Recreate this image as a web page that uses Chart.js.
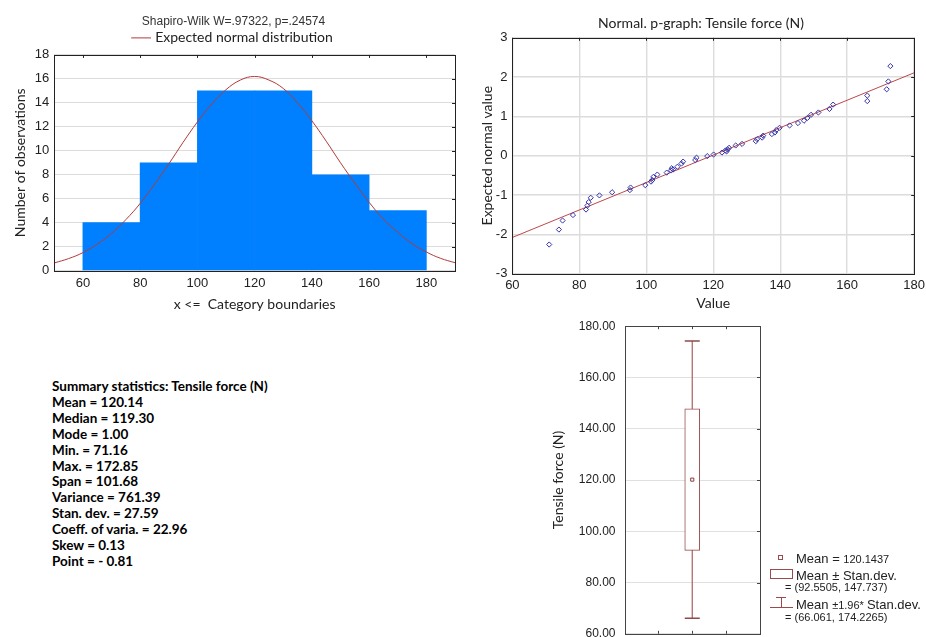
<!DOCTYPE html>
<html>
<head>
<meta charset="utf-8">
<script src="https://cdn.jsdelivr.net/npm/chart.js@4/dist/chart.umd.min.js"></script>
<style>
  body { margin: 0; background: #fff; width: 926px; height: 637px; overflow: hidden; position: relative; }
  .box { position: absolute; }
  #stats { position: absolute; left: 52px; top: 379px; font-family: Lato, sans-serif; font-weight: bold; font-size: 13.5px; line-height: 15.9px; color: #000; }
  #boxLegend { position: absolute; left: 768px; top: 549px; font-family: "Liberation Sans", Arial, sans-serif; color: #222; }
  #boxLegend .row { position: relative; height: 16px; white-space: nowrap; }
  .big { font-size: 13px; }
  .small { font-size: 11px; }
</style>
</head>
<body>

<div class="box" style="left:0;top:0;"><canvas id="histo" width="465" height="318"></canvas></div>
<div class="box" style="left:470px;top:0;"><canvas id="pplot" width="459" height="318"></canvas></div>
<div class="box" style="left:540px;top:310px;"><canvas id="boxplot" width="240" height="340"></canvas></div>

<div id="stats"></div>

<div id="boxLegend">
  <div class="row" style="padding-left:28px;height:17px;"><span style="position:absolute;left:10px;top:6px;width:3px;height:3px;border:1px solid #9a4a4a;"></span><span class="big">Mean = </span><span class="small">120.1437</span></div>
  <div class="row" style="padding-left:28px;height:15px;"><span style="position:absolute;left:2px;top:3px;width:21px;height:8px;border:1px solid #9a4a4a;"></span><span class="big">Mean ± Stan.dev.</span></div>
  <div class="row small" style="padding-left:17px;height:14px;">= (92.5505, 147.737)</div>
  <div class="row" style="padding-left:28px;height:16px;"><span style="position:absolute;left:8px;top:2px;width:10px;height:0;border-top:1px solid #9a4a4a;"></span><span style="position:absolute;left:13px;top:2px;width:0;height:10px;border-left:1px solid #9a4a4a;"></span><span style="position:absolute;left:2px;top:12px;width:23px;height:0;border-top:1px solid #9a4a4a;"></span><span class="big">Mean </span><span class="small">±1.96* </span><span class="big">Stan.dev.</span></div>
  <div class="row small" style="padding-left:17px;height:14px;">= (66.061, 174.2265)</div>
</div>

<script>
// ---- histogram data ----
var binCenters = [70, 90, 110, 130, 150, 170];
var binCounts = [4, 9, 15, 15, 8, 5];
var histTicks = [60, 80, 100, 120, 140, 160, 180];
// expected normal curve
var curveX = [50, 55, 60, 65, 70, 75, 80, 85, 90, 95, 100, 105, 110, 115, 120, 125, 130, 135, 140, 145, 150, 155, 160, 165, 170, 175, 180, 185, 190];
var curveY = [0.64, 1.0, 1.5, 2.2, 3.1, 4.25, 5.6, 7.2, 8.9, 10.7, 12.4, 13.9, 15.1, 15.9, 16.2, 15.9, 15.2, 14.0, 12.5, 10.8, 9.0, 7.3, 5.7, 4.3, 3.2, 2.25, 1.55, 1.02, 0.66];

// ---- normal probability plot data ----
var probValue = [71.0, 73.9, 75.0, 78.1, 82.0, 82.4, 82.8, 83.4, 86.0, 89.8, 95.1, 95.3, 99.7, 101.4, 101.8, 102.1, 103.3, 106.1, 107.4, 107.6, 108.0, 109.3, 110.5, 111.0, 114.6, 115.0, 118.2, 120.1, 122.6, 123.6, 124.0, 124.3, 124.7, 126.7, 128.6, 132.7, 133.1, 134.6, 134.9, 137.5, 138.4, 138.8, 139.8, 142.8, 145.3, 147.1, 148.1, 149.2, 151.4, 154.7, 155.8, 166.0, 166.0, 171.8, 172.3, 172.9];
var probExpected = [-2.26, -1.88, -1.65, -1.51, -1.37, -1.27, -1.18, -1.07, -1.01, -0.93, -0.875, -0.81, -0.75, -0.66, -0.62, -0.54, -0.48, -0.43, -0.37, -0.32, -0.35, -0.28, -0.20, -0.15, -0.11, -0.05, -0.01, 0.03, 0.08, 0.13, 0.11, 0.16, 0.20, 0.26, 0.30, 0.37, 0.42, 0.46, 0.51, 0.55, 0.59, 0.65, 0.71, 0.77, 0.83, 0.89, 0.96, 1.04, 1.10, 1.19, 1.30, 1.39, 1.53, 1.69, 1.89, 2.28];
var fitX = [60, 180];
var fitY = [-2.08, 2.11];

// ---- box plot data ----
var boxMean = 120.1437;
var boxSd = [92.5505, 147.737];
var boxCi = [66.061, 174.2265];

// ---- summary statistics ----
var statLines = [
    'Summary statistics: Tensile force (N)',
    'Mean = 120.14',
    'Median = 119.30',
    'Mode = 1.00',
    'Min. = 71.16',
    'Max. = 172.85',
    'Span = 101.68',
    'Variance = 761.39',
    'Stan. dev. = 27.59',
    'Coeff. of varia. = 22.96',
    'Skew = 0.13',
    'Point = - 0.81'
];

document.getElementById('stats').innerHTML = statLines.join('<br>');

var tickFont = { family: "'Liberation Sans', Arial, sans-serif", size: 13 };
var titleFont = { family: "Lato, sans-serif", size: 14, weight: 'normal' };

// marco alrededor del area del grafico + marcas hacia dentro
var framePlugin = {
    id: 'frame',
    afterDraw: function (chart, args, opts) {
        var a = chart.chartArea;
        var c = chart.ctx;
        c.save();
        c.strokeStyle = opts.color || '#333';
        c.lineWidth = 1;
        c.strokeRect(Math.round(a.left) + 0.5, Math.round(a.top) + 0.5, Math.round(a.right - a.left), Math.round(a.bottom - a.top));
        var len = opts.tick || 0;
        if (len) {
            var x = chart.scales.x, y = chart.scales.y;
            x.ticks.forEach(function (t) {
                var px = Math.round(x.getPixelForValue(t.value)) + 0.5;
                if (opts.bottomTicks) { c.beginPath(); c.moveTo(px, a.bottom); c.lineTo(px, a.bottom - len); c.stroke(); }
                c.beginPath(); c.moveTo(px, a.top); c.lineTo(px, a.top + len); c.stroke();
            });
            y.ticks.forEach(function (t) {
                var py = Math.round(y.getPixelForValue(t.value)) + 0.5;
                c.beginPath(); c.moveTo(a.right, py); c.lineTo(a.right - len, py); c.stroke();
            });
        }
        c.restore();
    }
};

// ---------- HISTOGRAM ----------
new Chart(document.getElementById('histo'), {
    type: 'bar',
    data: {
        datasets: [{
            type: 'line',
            label: 'Expected normal distribution',
            data: curveX.map(function (v, i) { return { x: v, y: curveY[i] }; }),
            borderColor: '#b23a3a',
            borderWidth: 1,
            pointRadius: 0,
            tension: 0.4,
            order: 0
        }, {
            label: 'Counts',
            data: binCenters.map(function (v, i) { return { x: v, y: binCounts[i] }; }),
            backgroundColor: '#0080ff',
            borderWidth: 0,
            barPercentage: 1,
            categoryPercentage: 1,
            order: 1
        }]
    },
    options: {
        responsive: false,
        animation: false,
        layout: { padding: { left: 12, right: 10, top: 0, bottom: 5 } },
        scales: {
            x: {
                type: 'linear',
                min: 50, max: 190,
                offset: false,
                afterBuildTicks: function (s) { s.ticks = histTicks.map(function (v) { return { value: v }; }); },
                grid: { display: false, drawTicks: false },
                border: { display: false },
                ticks: { font: tickFont, color: '#222', padding: 5, maxRotation: 0 },
                title: { display: true, text: 'x <=  Category boundaries', font: titleFont, color: '#222', padding: { top: 0, bottom: 0 } }
            },
            y: {
                min: 0, max: 18,
                ticks: { stepSize: 2, font: tickFont, color: '#222', padding: 5 },
                grid: { color: '#dcdcdc', drawTicks: false },
                border: { display: false },
                title: { display: true, text: 'Number of observations', font: titleFont, color: '#222', padding: { top: 0, bottom: 1 } }
            }
        },
        plugins: {
            title: { display: true, text: 'Shapiro-Wilk W=.97322, p=.24574', font: { family: "'Liberation Sans', Arial, sans-serif", size: 12, weight: 'normal' }, color: '#333', padding: { top: 14.5, bottom: 1 } },
            legend: {
                labels: {
                    filter: function (item) { return item.text !== 'Counts'; },
                    usePointStyle: true, pointStyle: 'line', boxWidth: 18, padding: 1,
                    font: titleFont, color: '#222'
                }
            },
            tooltip: { enabled: false },
            frame: { color: '#222', tick: 3 }
        }
    },
    plugins: [framePlugin]
});

// ---------- NORMAL PROBABILITY PLOT ----------
new Chart(document.getElementById('pplot'), {
    type: 'scatter',
    data: {
        datasets: [{
            label: 'Fit',
            type: 'line',
            data: fitX.map(function (v, i) { return { x: v, y: fitY[i] }; }),
            borderColor: '#c04848',
            borderWidth: 1,
            pointRadius: 0,
            order: 1
        }, {
            label: 'Points',
            data: probValue.map(function (v, i) { return { x: v, y: probExpected[i] }; }),
            pointStyle: 'rectRot',
            pointRadius: 2.6,
            borderColor: '#3333a8',
            backgroundColor: 'rgba(0,0,0,0)',
            borderWidth: 1,
            order: 0
        }]
    },
    options: {
        responsive: false,
        animation: false,
        layout: { padding: { left: 4, right: 1, top: 0, bottom: 6 } },
        scales: {
            x: {
                type: 'linear', min: 60, max: 180,
                ticks: { stepSize: 20, font: tickFont, color: '#222', padding: 4, maxRotation: 0 },
                grid: { color: '#dcdcdc', lineWidth: 1.4, drawTicks: false },
                border: { display: false },
                title: { display: true, text: 'Value', font: titleFont, color: '#222', padding: { top: -2, bottom: 0 } }
            },
            y: {
                min: -3, max: 3,
                ticks: { stepSize: 1, font: tickFont, color: '#222', padding: 5 },
                grid: { color: '#dcdcdc', lineWidth: 1.4, drawTicks: false },
                border: { display: false },
                title: { display: true, text: 'Expected normal value', font: titleFont, color: '#222', padding: { top: 5, bottom: -5 } }
            }
        },
        plugins: {
            title: { display: true, text: 'Normal. p-graph: Tensile force (N)', font: titleFont, color: '#222', padding: { top: 15, bottom: 6 } },
            legend: { display: false },
            tooltip: { enabled: false },
            frame: { color: '#222', tick: 3 }
        }
    },
    plugins: [framePlugin]
});

// ---------- BOX PLOT ----------
new Chart(document.getElementById('boxplot'), {
    type: 'bar',
    data: {
        datasets: [{
            label: 'Mean ±1.96* Stan.dev.',
            type: 'line',
            data: [{ x: 2, y: boxCi[0] }, { x: 2, y: boxCi[1] }],
            borderColor: '#a86060',
            borderWidth: 1.2,
            pointStyle: 'line',
            pointRadius: 7.5,
            pointBorderColor: '#8e4a4a',
            pointBorderWidth: 1.5,
            order: 3
        }, {
            label: 'Mean ± Stan.dev.',
            data: [{ x: 2, y: boxSd }],
            backgroundColor: '#ffffff',
            borderColor: '#9a4a4a',
            borderWidth: 1,
            borderSkipped: false,
            barThickness: 15,
            order: 2
        }, {
            label: 'Mean',
            type: 'scatter',
            data: [{ x: 2, y: boxMean }],
            pointStyle: 'rect',
            pointRadius: 2.2,
            borderColor: '#8e3a3a',
            backgroundColor: '#ffffff',
            borderWidth: 1,
            order: 1
        }]
    },
    options: {
        responsive: false,
        animation: false,
        layout: { padding: { left: 10, right: 20, top: 7, bottom: 4 } },
        scales: {
            x: {
                type: 'linear', min: 0, max: 4, offset: false,
                ticks: { display: false, stepSize: 1 },
                grid: { display: false, drawTicks: false },
                border: { display: false }
            },
            y: {
                min: 60, max: 180,
                ticks: { stepSize: 20, font: { family: "'Liberation Sans', Arial, sans-serif", size: 12 }, color: '#222', padding: 9, callback: function (v) { return v.toFixed(2); } },
                grid: { color: '#e0e0e0', drawTicks: false },
                border: { display: false },
                title: { display: true, text: 'Tensile force (N)', font: titleFont, color: '#222', padding: { top: 0, bottom: 3 } }
            }
        },
        plugins: {
            legend: { display: false },
            tooltip: { enabled: false },
            frame: { color: '#444', tick: 3, bottomTicks: true }
        }
    },
    plugins: [framePlugin]
});
</script>
</body>
</html>
